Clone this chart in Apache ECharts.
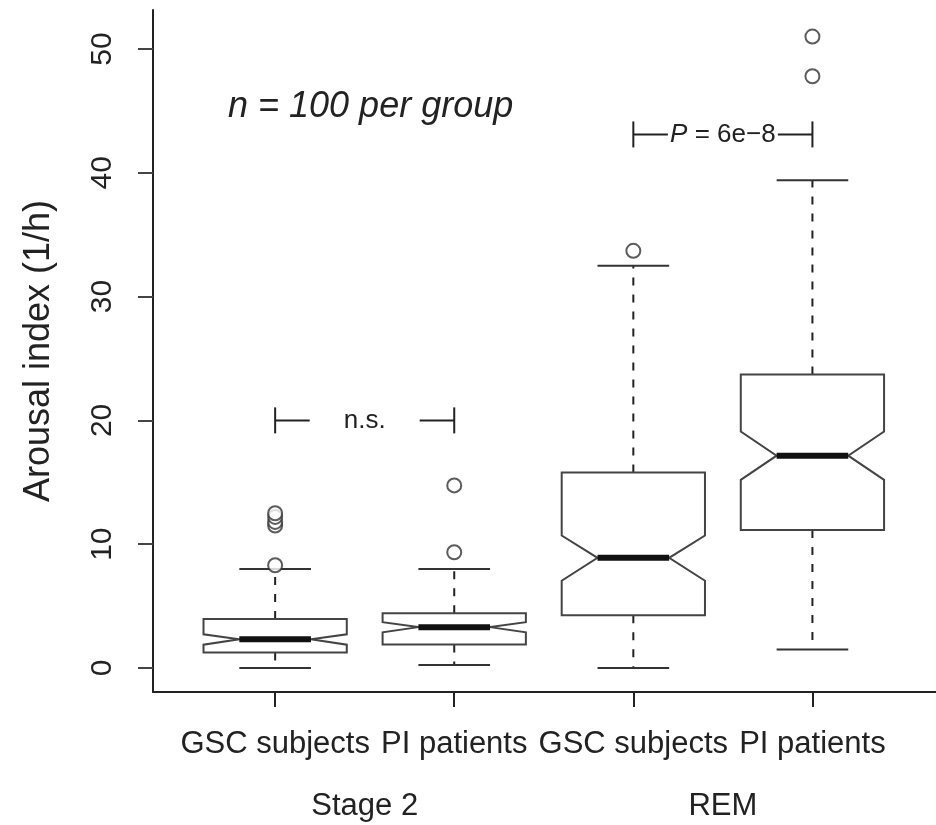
<!DOCTYPE html>
<html>
<head>
<meta charset="utf-8">
<script src="https://cdn.jsdelivr.net/npm/echarts@6/dist/echarts.min.js"></script>
<style>
  html, body { margin: 0; padding: 0; background: #fff; }
  #chart { width: 936px; height: 825px; }
</style>
</head>
<body>
<div id="chart"></div>
<script>
// ---------- data ----------
const categories = ['GSC subjects', 'PI patients', 'GSC subjects', 'PI patients'];
const groupLabels = ['Stage 2', 'REM'];
const groupPositions = [1.5, 3.5];
const yTicks = [0, 10, 20, 30, 40, 50];

const whiskerLow  = [0.0, 0.25, 0.0, 1.5];
const q1          = [1.25, 1.9, 4.25, 11.15];
const notchLow    = [1.88, 2.88, 7.05, 15.2];
const median      = [2.32, 3.3, 8.9, 17.15];
const notchHigh   = [2.72, 3.7, 10.7, 19.1];
const q3          = [3.96, 4.42, 15.8, 23.7];
const whiskerHigh = [8.0, 8.0, 32.5, 39.4];

const outliers1 = [8.3, 11.5, 11.8, 12.2, 12.5];
const outliers2 = [9.35, 14.75];
const outliers3 = [33.7];
const outliers4 = [47.8, 51.0];

const bracketFrom = [1, 3];
const bracketTo   = [2, 4];
const bracketY    = [20.0, 43.1];
const bracketText = ['n.s.', '{i|P} = 6e\u22128'];

const annotationText = 'n = 100 per group';

// ---------- build ----------
const FONT = '"Liberation Sans", Arial, Helvetica, sans-serif';
const INK = '#222';

const boxData = categories.map((c, i) => [i + 1, whiskerLow[i], q1[i], notchLow[i], median[i], notchHigh[i], q3[i], whiskerHigh[i]]);
const outlierData = [];
[outliers1, outliers2, outliers3, outliers4].forEach((arr, i) => arr.forEach(v => outlierData.push([i + 1, v])));
const bracketData = bracketFrom.map((f, i) => [f, bracketTo[i], bracketY[i], i]);

function renderBox(params, api) {
  const xi = api.value(0);
  const lo = api.value(1), b1 = api.value(2), nLo = api.value(3), med = api.value(4),
        nHi = api.value(5), b3 = api.value(6), hi = api.value(7);
  const x0 = api.coord([xi, 0])[0];
  const hw = api.size([0.4, 0])[0];
  const y = v => api.coord([xi, v])[1];
  const xl = x0 - hw, xr = x0 + hw, nl = x0 - hw / 2, nr = x0 + hw / 2;
  const cw = hw / 2;
  const lineStyle = { stroke: '#333', lineWidth: 2, fill: null };
  return {
    type: 'group',
    children: [
      { type: 'line', shape: { x1: x0, y1: y(b3), x2: x0, y2: y(hi) }, style: { stroke: '#222', lineWidth: 2, lineDash: [8, 9] } },
      { type: 'line', shape: { x1: x0, y1: y(b1), x2: x0, y2: y(lo) }, style: { stroke: '#222', lineWidth: 2, lineDash: [8, 9] } },
      { type: 'line', shape: { x1: x0 - cw, y1: y(hi), x2: x0 + cw, y2: y(hi) }, style: lineStyle },
      { type: 'line', shape: { x1: x0 - cw, y1: y(lo), x2: x0 + cw, y2: y(lo) }, style: lineStyle },
      { type: 'polygon', shape: { points: [
          [xl, y(b3)], [xr, y(b3)], [xr, y(nHi)], [nr, y(med)], [xr, y(nLo)], [xr, y(b1)],
          [xl, y(b1)], [xl, y(nLo)], [nl, y(med)], [xl, y(nHi)]
        ] }, style: { stroke: '#444', lineWidth: 2, fill: '#fff' } },
      { type: 'line', shape: { x1: nl, y1: y(med), x2: nr, y2: y(med) }, style: { stroke: '#111', lineWidth: 6 } }
    ]
  };
}

function renderBracket(params, api) {
  const a = api.coord([api.value(0), api.value(2)]);
  const b = api.coord([api.value(1), api.value(2)]);
  const idx = api.value(3);
  const cx = (a[0] + b[0]) / 2;
  const gap = 55, th = 13;
  const st = { stroke: '#222', lineWidth: 2 };
  return {
    type: 'group',
    children: [
      { type: 'line', shape: { x1: a[0], y1: a[1] - th, x2: a[0], y2: a[1] + th }, style: st },
      { type: 'line', shape: { x1: b[0], y1: b[1] - th, x2: b[0], y2: b[1] + th }, style: st },
      { type: 'line', shape: { x1: a[0], y1: a[1], x2: cx - gap, y2: a[1] }, style: st },
      { type: 'line', shape: { x1: cx + gap, y1: b[1], x2: b[0], y2: b[1] }, style: st },
      { type: 'text', x: cx, y: a[1], style: {
          text: bracketText[idx], fontFamily: FONT, fontSize: 26, fill: INK,
          align: 'center', verticalAlign: 'middle',
          rich: { i: { fontStyle: 'italic', fontFamily: FONT, fontSize: 26, fill: INK } }
        } }
    ]
  };
}

const chart = echarts.init(document.getElementById('chart'), null, { renderer: 'canvas' });
chart.setOption({
  backgroundColor: '#fff',
  animation: false,
  grid: { left: 153, right: 0, top: 10, bottom: 133, containLabel: false },
  xAxis: [
    {
      type: 'value', min: 0.318, max: 4.69,
      axisLine: { show: true, onZero: false, lineStyle: { color: '#222', width: 2 } },
      axisTick: { show: true, length: 15, customValues: [1, 2, 3, 4], lineStyle: { color: '#222', width: 2 } },
      axisLabel: { customValues: [1, 2, 3, 4], formatter: v => categories[Math.round(v) - 1],
        fontFamily: FONT, fontSize: 31, color: INK, margin: 37 },
      splitLine: { show: false }
    },
    {
      type: 'value', min: 0.318, max: 4.69, position: 'bottom',
      axisLine: { show: false }, axisTick: { show: false },
      axisLabel: { customValues: groupPositions, formatter: v => groupLabels[groupPositions.indexOf(v)],
        fontFamily: FONT, fontSize: 31, color: INK, margin: 99 },
      splitLine: { show: false }
    }
  ],
  yAxis: {
    type: 'value', min: -1.94, max: 53.15,
    name: 'Arousal index (1/h)', nameLocation: 'middle', nameRotate: 90, nameGap: 96,
    nameTextStyle: { fontFamily: FONT, fontSize: 36, color: INK },
    axisLine: { show: true, onZero: false, lineStyle: { color: '#222', width: 2 } },
    axisTick: { show: true, length: 15, customValues: yTicks, lineStyle: { color: '#444', width: 2 } },
    axisLabel: { customValues: yTicks, rotate: 90, fontFamily: FONT, fontSize: 30, color: INK, margin: 35 },
    splitLine: { show: false }
  },
  graphic: [
    { type: 'text', left: 228, top: 89, style: { text: annotationText, fontFamily: FONT, fontStyle: 'italic', fontSize: 36, fill: INK } }
  ],
  series: [
    { type: 'custom', renderItem: renderBox, data: boxData, encode: { x: 0, y: [1, 7] }, z: 2 },
    { type: 'scatter', data: outlierData, symbol: 'emptyCircle', symbolSize: 14,
      itemStyle: { color: '#333', borderWidth: 2 }, z: 3 },
    { type: 'custom', renderItem: renderBracket, data: bracketData, encode: { x: [0, 1], y: 2 }, z: 3 }
  ]
});
</script>
</body>
</html>
